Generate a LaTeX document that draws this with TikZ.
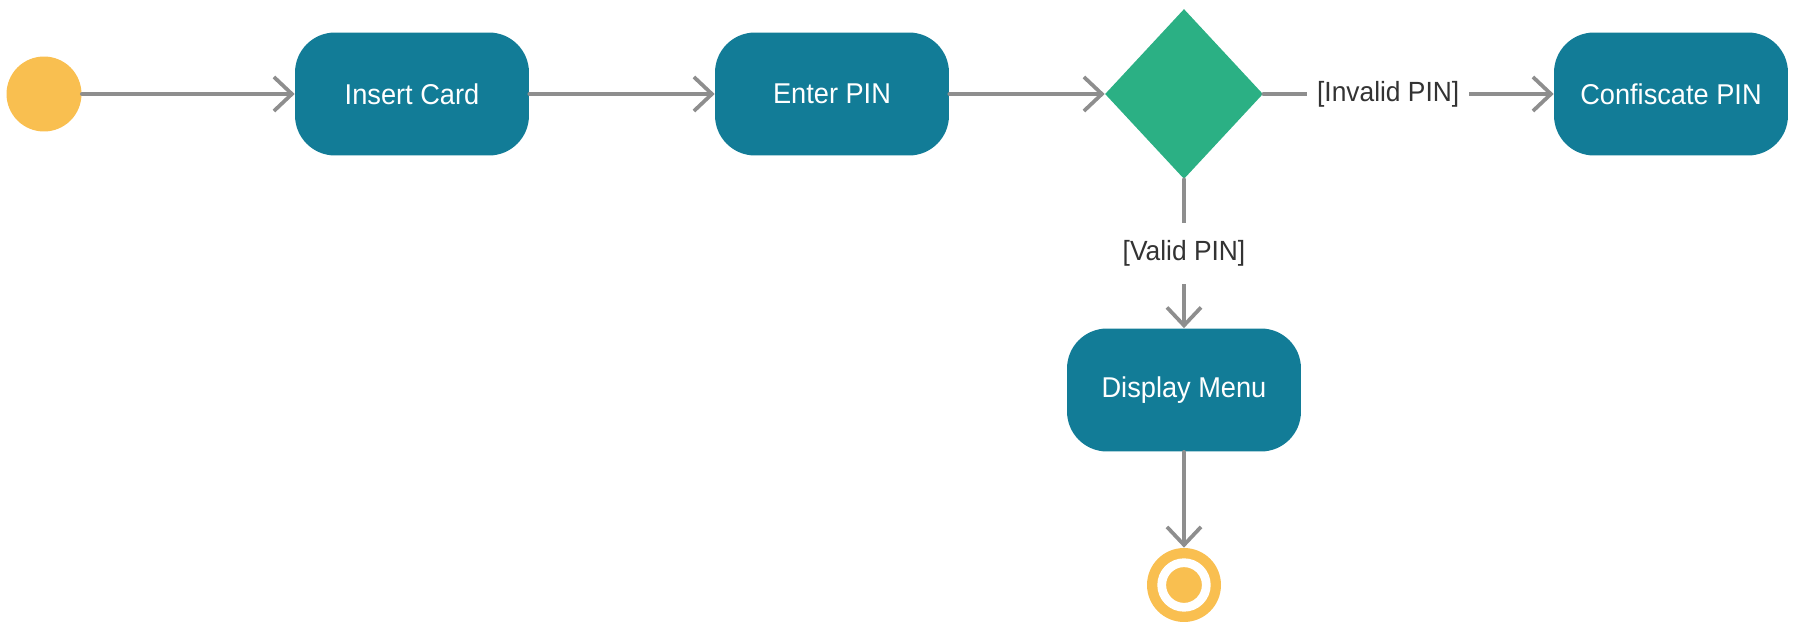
\documentclass[tikz,border=0pt]{standalone}
\usepackage{fontspec}
\setsansfont{Liberation Sans}[FakeStretch=0.95]
\usepackage{tikz}
\usetikzlibrary{arrows.meta, shapes.geometric}

\definecolor{actteal}{HTML}{127C97}
\definecolor{decgreen}{HTML}{2BB084}
\definecolor{startorange}{HTML}{F9BF50}
\definecolor{flowgray}{HTML}{8E8E8E}

\begin{document}
\begin{tikzpicture}[
    x=0.02cm, y=0.02cm,
    action/.style={
        rounded corners=0.8cm, minimum width=4.68cm, minimum height=2.46cm,
        font=\sffamily\fontsize{16.3pt}{19pt}\selectfont, align=center,
        fill=actteal, text=white, inner sep=0pt
    },
    decision/.style={
        diamond, fill=decgreen, minimum width=3.16cm, minimum height=3.4cm,
        inner sep=0pt
    },
    initial/.style={circle, fill=startorange, minimum size=1.5cm, inner sep=0pt},
    final/.style={
        circle, fill=startorange, minimum size=1.48cm, inner sep=0pt,
        path picture={\draw[white, line width=0.175cm]
            (path picture bounding box.center) circle (0.446cm);}
    },
    arrow/.style={
        -{Straight Barb[length=0.36cm, width=0.68cm]}, line width=0.075cm,
        flowgray, line cap=round
    },
    lbl/.style={
        font=\sffamily\fontsize{15.8pt}{19pt}\selectfont, text=black!80, fill=white,
        inner xsep=0.2cm, inner ysep=0.35cm
    }
]
\useasboundingbox (0,0) rectangle (1796,623);

\node[initial] (start) at (44, 529) {};
\node[action] (insert) at (412, 529) {Insert Card};
\node[action] (enter) at (832, 529) {Enter PIN};
\node[decision] (check) at (1184, 529) {};
\node[action] (confiscate) at (1671, 529) {Confiscate PIN};
\node[action] (menu) at (1184, 233) {Display Menu};
\node[final] (stop) at (1184, 38) {};

\draw[arrow] (start) -- (insert);
\draw[arrow] (insert) -- (enter);
\draw[arrow] (enter) -- (check);
\draw[arrow] (check.east) -- node[lbl, pos=0.43] {[Invalid PIN]} (confiscate.west);
\draw[arrow] (check.south) -- node[lbl] {[Valid PIN]} (menu.north);
\draw[arrow] (menu) -- (stop);

\end{tikzpicture}
\end{document}
